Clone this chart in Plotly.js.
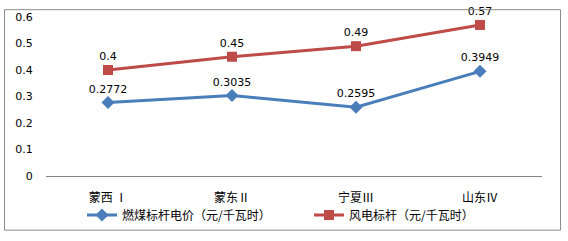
<!DOCTYPE html>
<html><head><meta charset="utf-8">
<script src="https://cdn.plot.ly/plotly-3.0.1.min.js"></script>
<style>html,body{margin:0;padding:0;background:#fff;}#c{width:568px;height:241px;}</style>
</head><body><div id="c"></div>
<script>
const categories = ["蒙西 Ⅰ", "蒙东Ⅱ", "宁夏Ⅲ", "山东Ⅳ"];
const coalPrice = [0.2772, 0.3035, 0.2595, 0.3949];
const windPrice = [0.4, 0.45, 0.49, 0.57];
const coalLabels = ["0.2772", "0.3035", "0.2595", "0.3949"];
const windLabels = ["0.4", "0.45", "0.49", "0.57"];
const seriesNames = ["燃煤标杆电价（元/千瓦时）", "风电标杆（元/千瓦时）"];

const L = 46, R = 26, T = 17, B = 61, W = 568, H = 241;
const pw = W - L - R, ph = H - T - B;
const px = x => (x - L) / pw;
const py = y => (H - B - y) / ph;

const numFont = {family: "DejaVu Sans, Verdana, sans-serif", size: 11, color: "#000"};
const traces = [
  {x: categories, y: coalPrice, text: coalLabels, name: seriesNames[0], type: "scatter",
   mode: "lines+markers+text", textposition: "top center", textfont: numFont,
   line: {color: "#4A7EBB", width: 3}, marker: {symbol: "diamond", size: 10, color: "#4A7EBB"}, cliponaxis: false},
  {x: categories, y: windPrice, text: windLabels, name: seriesNames[1], type: "scatter",
   mode: "lines+markers+text", textposition: "top center", textfont: numFont,
   line: {color: "#BE4B48", width: 3}, marker: {symbol: "square", size: 10, color: "#BE4B48"}, cliponaxis: false}
];
const layout = {
  width: W, height: H,
  margin: {l: L, r: R, t: T, b: B},
  paper_bgcolor: "#fff", plot_bgcolor: "#fff",
  showlegend: true,
  legend: {orientation: "h", x: px(82), xanchor: "left", y: py(205), yanchor: "top",
           font: {family: "Noto Sans CJK SC", size: 12, color: "#000"}, itemwidth: 30,
           entrywidth: 182, entrywidthmode: "pixels",
           bgcolor: "rgba(0,0,0,0)"},
  xaxis: {type: "category", range: [-0.5, 3.5], showgrid: false, zeroline: false, showline: true, linecolor: "#868686", linewidth: 1,
          ticks: "outside", ticklen: 11, tickcolor: "rgba(0,0,0,0)",
          tickfont: {family: "Noto Sans CJK SC", size: 12, color: "#000"}, fixedrange: true},
  yaxis: {range: [0, 0.6], dtick: 0.1, showgrid: false, zeroline: false, showline: false,
          ticks: "outside", ticklen: 10, tickcolor: "rgba(0,0,0,0)",
          tickfont: numFont, fixedrange: true},
  shapes: [{type: "rect", xref: "paper", yref: "paper", x0: px(4.5), x1: px(560.5), y0: py(235.5), y1: py(9.5),
            line: {color: "#8c8c8c", width: 1}}]
};
Plotly.newPlot("c", traces, layout, {staticPlot: true, displayModeBar: false});
</script></body></html>
